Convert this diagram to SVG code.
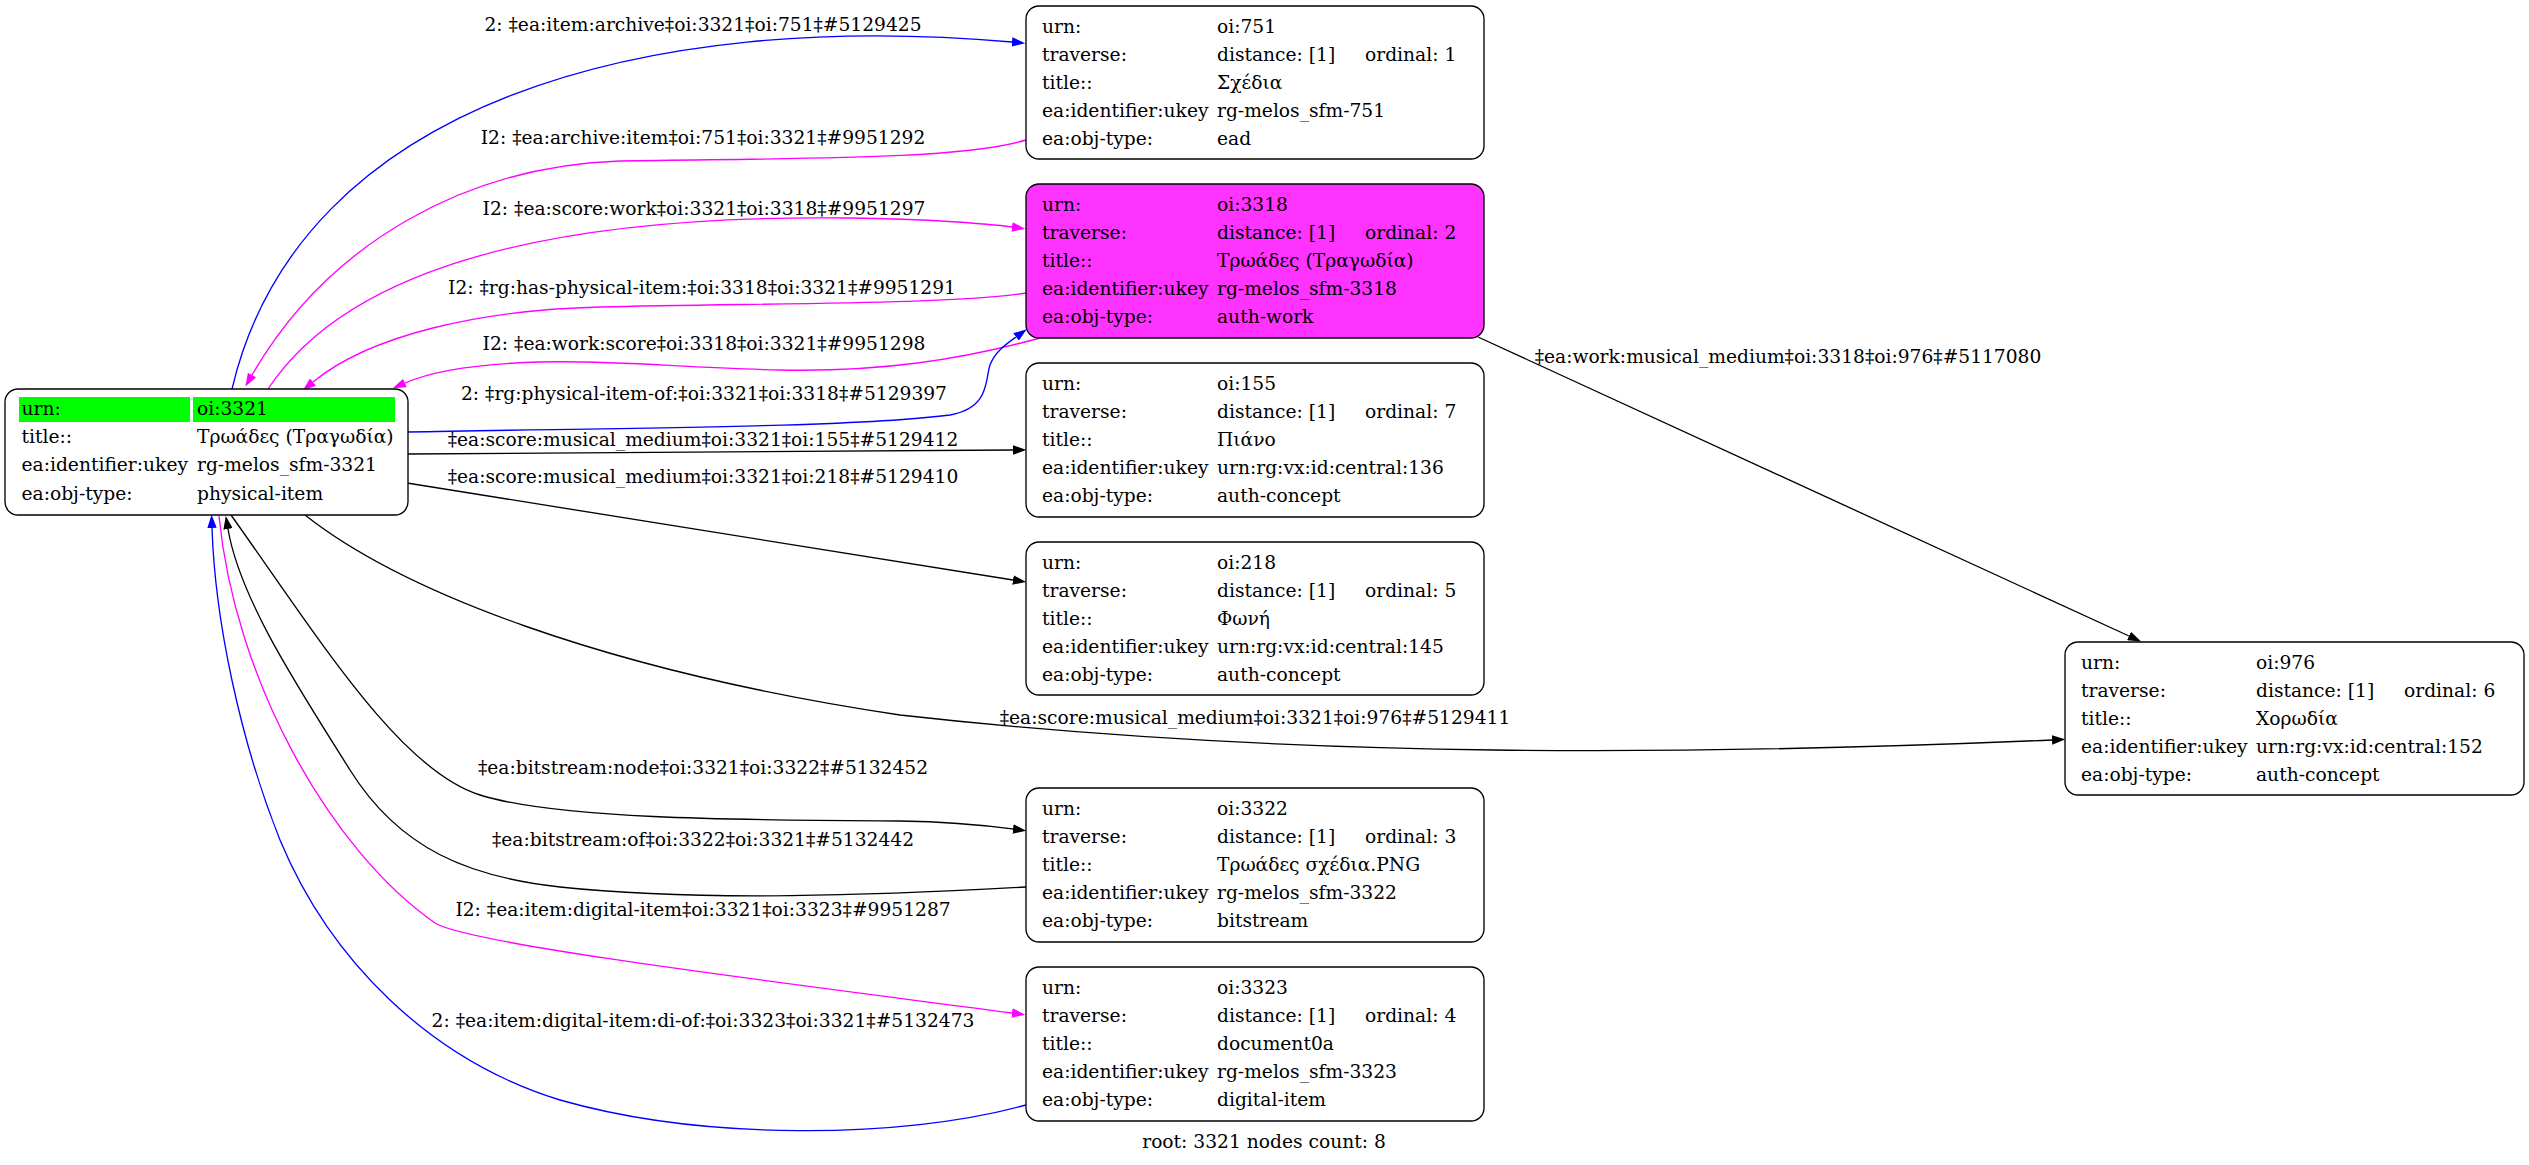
<svg xmlns="http://www.w3.org/2000/svg" width="2529" height="1165" viewBox="0 0 2529 1165">
<style>
text{font-family:"DejaVu Serif","Liberation Serif",serif;font-size:18.67px;fill:#000}
.box{fill:#fff;stroke:#000;stroke-width:1.33}
.hl{fill:#ff33ff}
.e{fill:none;stroke-width:1.33}
.k{stroke:#000}
.b{stroke:#0000ff}
.m{stroke:#ff00ff}
.lbl{text-anchor:middle}
</style>
<defs>
<marker id="ak" viewBox="0 0 13.3 9.4" refX="0" refY="4.7" markerWidth="13.3" markerHeight="9.4" markerUnits="userSpaceOnUse" orient="auto"><path d="M0,0 L13.3,4.7 L0,9.4 z" fill="#000"/></marker>
<marker id="ab" viewBox="0 0 13.3 9.4" refX="0" refY="4.7" markerWidth="13.3" markerHeight="9.4" markerUnits="userSpaceOnUse" orient="auto"><path d="M0,0 L13.3,4.7 L0,9.4 z" fill="#0000ff"/></marker>
<marker id="am" viewBox="0 0 13.3 9.4" refX="0" refY="4.7" markerWidth="13.3" markerHeight="9.4" markerUnits="userSpaceOnUse" orient="auto"><path d="M0,0 L13.3,4.7 L0,9.4 z" fill="#ff00ff"/></marker>
</defs>
<rect width="2529" height="1165" fill="#fff"/>

<g id="edges">
<g id="e1"><path class="e b" marker-end="url(#ab)" d="M232,389 C300,100 650,10 1012,42"/><text class="lbl" x="703" y="31">2: ‡ea:item:archive‡oi:3321‡oi:751‡#5129425</text></g>
<g id="e2"><path class="e m" marker-end="url(#am)" d="M1026,140 C960,160 800,158 620,161 C470,166 330,240 252,375"/><text class="lbl" x="703" y="144">I2: ‡ea:archive:item‡oi:751‡oi:3321‡#9951292</text></g>
<g id="e3"><path class="e m" marker-end="url(#am)" d="M268,389 C360,250 600,215 850,218 C930,219 990,224 1012,227"/><text class="lbl" x="704" y="215">I2: ‡ea:score:work‡oi:3321‡oi:3318‡#9951297</text></g>
<g id="e4"><path class="e m" marker-end="url(#am)" d="M1026,293 C950,305 750,303 600,307 C480,310 370,335 313,382"/><text class="lbl" x="702" y="294">I2: ‡rg:has-physical-item:‡oi:3318‡oi:3321‡#9951291</text></g>
<g id="e5"><path class="e m" marker-end="url(#am)" d="M1040,338 C960,360 880,372 780,370 C680,368 620,360 540,362 C470,364 430,372 405,383"/><text class="lbl" x="704" y="350">I2: ‡ea:work:score‡oi:3318‡oi:3321‡#9951298</text></g>
<g id="e6"><path class="e b" marker-end="url(#ab)" d="M407,432 C600,428 850,428 950,415 C990,408 985,380 990,365 C995,352 1005,345 1016,337"/><text class="lbl" x="704" y="400">2: ‡rg:physical-item-of:‡oi:3321‡oi:3318‡#5129397</text></g>
<g id="e7"><path class="e k" marker-end="url(#ak)" d="M407,454 C600,452 800,451 1013,450"/><text class="lbl" x="703" y="446">‡ea:score:musical_medium‡oi:3321‡oi:155‡#5129412</text></g>
<g id="e8"><path class="e k" marker-end="url(#ak)" d="M407,483 L1013,580"/><text class="lbl" x="703" y="483">‡ea:score:musical_medium‡oi:3321‡oi:218‡#5129410</text></g>
<g id="e9"><path class="e k" marker-end="url(#ak)" d="M305,515 C400,590 600,670 900,715 C1300,760 1700,755 2052,740"/><text class="lbl" x="1255" y="724">‡ea:score:musical_medium‡oi:3321‡oi:976‡#5129411</text></g>
<g id="e10"><path class="e k" marker-end="url(#ak)" d="M1478,337 L2129,636"/><text class="lbl" x="1788" y="363">‡ea:work:musical_medium‡oi:3318‡oi:976‡#5117080</text></g>
<g id="e11"><path class="e k" marker-end="url(#ak)" d="M231,515 C320,640 400,770 480,795 C560,820 750,820 900,821 C960,822 990,826 1013,829"/><text class="lbl" x="703" y="774">‡ea:bitstream:node‡oi:3321‡oi:3322‡#5132452</text></g>
<g id="e12"><path class="e k" marker-end="url(#ak)" d="M1026,887 C880,895 700,902 560,887 C470,877 400,850 350,770 C300,690 240,600 228,529"/><text class="lbl" x="703" y="846">‡ea:bitstream:of‡oi:3322‡oi:3321‡#5132442</text></g>
<g id="e13"><path class="e m" marker-end="url(#am)" d="M219,516 C235,680 330,850 435,923 C470,945 800,985 1012,1013"/><text class="lbl" x="703" y="916">I2: ‡ea:item:digital-item‡oi:3321‡oi:3323‡#9951287</text></g>
<g id="e14"><path class="e b" marker-end="url(#ab)" d="M1026,1105 C900,1140 700,1140 560,1100 C430,1060 330,960 280,840 C240,740 215,620 212,528"/><text class="lbl" x="703" y="1027">2: ‡ea:item:digital-item:di-of:‡oi:3323‡oi:3321‡#5132473</text></g>
</g>

<g id="n3321" transform="translate(5,389)">
<rect class="box" x="0" y="0" width="403" height="126" rx="13"/>
<rect x="14" y="8" width="171" height="25" fill="#00ff00"/>
<rect x="188" y="8" width="202" height="25" fill="#00ff00"/>
<text x="16.5" y="26">urn:</text><text x="192" y="26">oi:3321</text>
<text x="16.5" y="54.2">title::</text><text x="192" y="54.2">Τρωάδες (Τραγωδία)</text>
<text x="16.5" y="82.4">ea:identifier:ukey</text><text x="192" y="82.4">rg-melos_sfm-3321</text>
<text x="16.5" y="110.6">ea:obj-type:</text><text x="192" y="110.6">physical-item</text>
</g>

<g id="n751" transform="translate(1026,6)">
<rect class="box" x="0" y="0" width="458" height="153" rx="13"/>
<text x="16" y="26.5">urn:</text><text x="191" y="26.5">oi:751</text>
<text x="16" y="54.7">traverse:</text><text x="191" y="54.7">distance: [1]</text><text x="339" y="54.7">ordinal: 1</text>
<text x="16" y="82.9">title::</text><text x="191" y="82.9">Σχέδια</text>
<text x="16" y="111.1">ea:identifier:ukey</text><text x="191" y="111.1">rg-melos_sfm-751</text>
<text x="16" y="139.3">ea:obj-type:</text><text x="191" y="139.3">ead</text>
</g>

<g id="n3318" transform="translate(1026,184)">
<rect class="box hl" x="0" y="0" width="458" height="154" rx="13"/>
<text x="16" y="26.5">urn:</text><text x="191" y="26.5">oi:3318</text>
<text x="16" y="54.7">traverse:</text><text x="191" y="54.7">distance: [1]</text><text x="339" y="54.7">ordinal: 2</text>
<text x="16" y="82.9">title::</text><text x="191" y="82.9">Τρωάδες (Τραγωδία)</text>
<text x="16" y="111.1">ea:identifier:ukey</text><text x="191" y="111.1">rg-melos_sfm-3318</text>
<text x="16" y="139.3">ea:obj-type:</text><text x="191" y="139.3">auth-work</text>
</g>

<g id="n155" transform="translate(1026,363)">
<rect class="box" x="0" y="0" width="458" height="154" rx="13"/>
<text x="16" y="26.5">urn:</text><text x="191" y="26.5">oi:155</text>
<text x="16" y="54.7">traverse:</text><text x="191" y="54.7">distance: [1]</text><text x="339" y="54.7">ordinal: 7</text>
<text x="16" y="82.9">title::</text><text x="191" y="82.9">Πιάνο</text>
<text x="16" y="111.1">ea:identifier:ukey</text><text x="191" y="111.1">urn:rg:vx:id:central:136</text>
<text x="16" y="139.3">ea:obj-type:</text><text x="191" y="139.3">auth-concept</text>
</g>

<g id="n218" transform="translate(1026,542)">
<rect class="box" x="0" y="0" width="458" height="153" rx="13"/>
<text x="16" y="26.5">urn:</text><text x="191" y="26.5">oi:218</text>
<text x="16" y="54.7">traverse:</text><text x="191" y="54.7">distance: [1]</text><text x="339" y="54.7">ordinal: 5</text>
<text x="16" y="82.9">title::</text><text x="191" y="82.9">Φωνή</text>
<text x="16" y="111.1">ea:identifier:ukey</text><text x="191" y="111.1">urn:rg:vx:id:central:145</text>
<text x="16" y="139.3">ea:obj-type:</text><text x="191" y="139.3">auth-concept</text>
</g>

<g id="n3322" transform="translate(1026,788)">
<rect class="box" x="0" y="0" width="458" height="154" rx="13"/>
<text x="16" y="26.5">urn:</text><text x="191" y="26.5">oi:3322</text>
<text x="16" y="54.7">traverse:</text><text x="191" y="54.7">distance: [1]</text><text x="339" y="54.7">ordinal: 3</text>
<text x="16" y="82.9">title::</text><text x="191" y="82.9">Τρωάδες σχέδια.PNG</text>
<text x="16" y="111.1">ea:identifier:ukey</text><text x="191" y="111.1">rg-melos_sfm-3322</text>
<text x="16" y="139.3">ea:obj-type:</text><text x="191" y="139.3">bitstream</text>
</g>

<g id="n3323" transform="translate(1026,967)">
<rect class="box" x="0" y="0" width="458" height="154" rx="13"/>
<text x="16" y="26.5">urn:</text><text x="191" y="26.5">oi:3323</text>
<text x="16" y="54.7">traverse:</text><text x="191" y="54.7">distance: [1]</text><text x="339" y="54.7">ordinal: 4</text>
<text x="16" y="82.9">title::</text><text x="191" y="82.9">document0a</text>
<text x="16" y="111.1">ea:identifier:ukey</text><text x="191" y="111.1">rg-melos_sfm-3323</text>
<text x="16" y="139.3">ea:obj-type:</text><text x="191" y="139.3">digital-item</text>
</g>

<g id="n976" transform="translate(2065,642)">
<rect class="box" x="0" y="0" width="459" height="153" rx="13"/>
<text x="16" y="26.5">urn:</text><text x="191" y="26.5">oi:976</text>
<text x="16" y="54.7">traverse:</text><text x="191" y="54.7">distance: [1]</text><text x="339" y="54.7">ordinal: 6</text>
<text x="16" y="82.9">title::</text><text x="191" y="82.9">Χορωδία</text>
<text x="16" y="111.1">ea:identifier:ukey</text><text x="191" y="111.1">urn:rg:vx:id:central:152</text>
<text x="16" y="139.3">ea:obj-type:</text><text x="191" y="139.3">auth-concept</text>
</g>

<text id="footer" x="1264" y="1148" text-anchor="middle">root: 3321 nodes count: 8</text>
</svg>
